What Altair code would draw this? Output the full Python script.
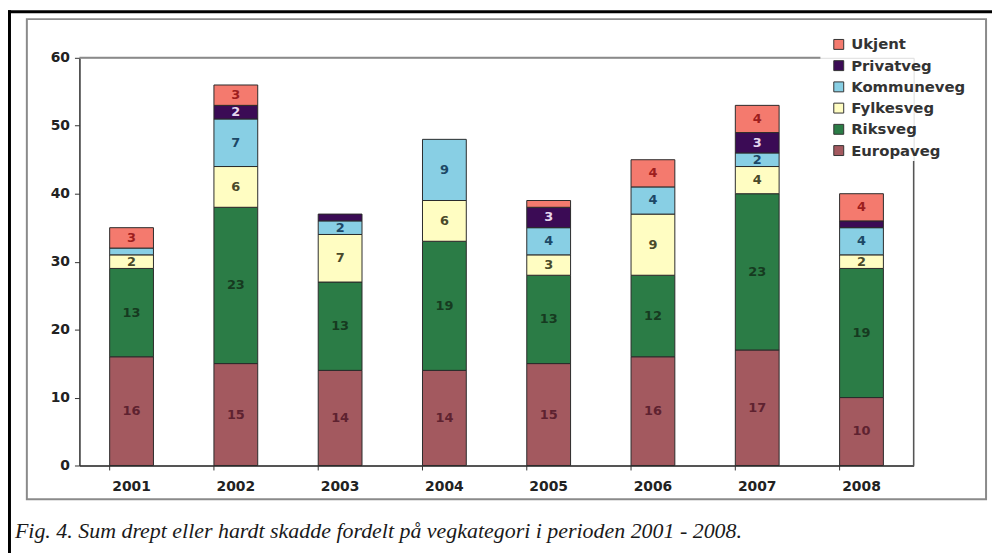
import altair as alt
import pandas as pd

years = ["2001", "2002", "2003", "2004", "2005", "2006", "2007", "2008"]
# bottom -> top stacking order
categories = ["Europaveg", "Riksveg", "Fylkesveg", "Kommuneveg", "Privatveg", "Ukjent"]
europaveg = [16, 15, 14, 14, 15, 16, 17, 10]
riksveg = [13, 23, 13, 19, 13, 12, 23, 19]
fylkesveg = [2, 6, 7, 6, 3, 9, 4, 2]
kommuneveg = [1, 7, 2, 9, 4, 4, 2, 4]
privatveg = [0, 2, 1, 0, 3, 0, 3, 1]
ukjent = [3, 3, 0, 0, 1, 4, 4, 4]
y_ticks = [0, 10, 20, 30, 40, 50, 60]
caption = "Fig. 4. Sum drept eller hardt skadde fordelt på vegkategori i perioden 2001 - 2008."

series = [europaveg, riksveg, fylkesveg, kommuneveg, privatveg, ukjent]
fill_colors = ["#A3595F", "#2B7C46", "#FFFDC2", "#88CFE4", "#3B0B55", "#F47A6E"]
label_colors = ["#5E2230", "#163A20", "#4A4A2A", "#1C4866", "#E6D8EE", "#9E1E1E"]
legend_order = list(reversed(categories))
legend_colors = list(reversed(fill_colors))

rows = []
for ci, (cat, vals) in enumerate(zip(categories, series)):
    for y, v in zip(years, vals):
        rows.append({"year": y, "category": cat, "value": v, "rank": ci})
df = pd.DataFrame(rows)

W, H = 841, 411
FONT = "DejaVu Sans"

xscale = alt.Scale(domain=years, paddingInner=0.58, paddingOuter=0.29)
yscale = alt.Scale(domain=[0, 60], nice=False)

base = (
    alt.Chart(df)
    .transform_filter("datum.value > 0")
    .transform_stack(
        stack="value",
        groupby=["year"],
        as_=["v0", "v1"],
        sort=[alt.SortField("rank", order="ascending")],
    )
    .transform_calculate(mid="(datum.v0 + datum.v1) / 2")
)

bars = base.mark_bar(stroke="#2a2a2a", strokeWidth=1).encode(
    x=alt.X(
        "year:N",
        scale=xscale,
        sort=years,
        title=None,
        axis=alt.Axis(
            labelAngle=0,
            ticks=False,
            domainColor="#555555",
            domainWidth=2,
            labelFont=FONT,
            labelFontWeight="bold",
            labelFontSize=14,
            labelColor="#222222",
            labelPadding=14,
        ),
    ),
    y=alt.Y(
        "v0:Q",
        scale=yscale,
        title=None,
        axis=alt.Axis(
            values=y_ticks,
            grid=False,
            domainColor="#333333",
            domainWidth=1.5,
            tickColor="#333333",
            tickSize=5,
            labelFont=FONT,
            labelFontWeight="bold",
            labelFontSize=14,
            labelColor="#222222",
            labelPadding=5,
        ),
    ),
    y2="v1:Q",
    color=alt.Color(
        "category:N",
        scale=alt.Scale(domain=legend_order, range=legend_colors),
        legend=alt.Legend(
            title=None,
            orient="none",
            legendX=751,
            legendY=-28,
            padding=7,
            symbolType="square",
            symbolSize=100,
            symbolStrokeColor="#333333",
            symbolStrokeWidth=1,
            labelFont=FONT,
            labelFontWeight="bold",
            labelFontSize=15,
            labelColor="#333333",
            labelOffset=5,
            rowPadding=5.4,
        ),
    ),
)

labels = (
    base.transform_filter("datum.value >= 2")
    .mark_text(font=FONT, fontSize=13, fontWeight="bold", baseline="middle")
    .encode(
        x=alt.X("year:N", scale=xscale, sort=years),
        y=alt.Y("mid:Q", scale=yscale),
        text="value:Q",
        fill=alt.Fill(
            "category:N",
            scale=alt.Scale(domain=categories, range=label_colors),
            legend=None,
        ),
    )
)

boundaries = (
    alt.Chart(pd.DataFrame({"year": years}))
    .mark_rule(color="#333333", strokeWidth=1)
    .encode(
        x=alt.X("year:N", scale=xscale, sort=years, bandPosition=0),
        y=alt.value(H),
        y2=alt.value(H + 5),
    )
)

one = pd.DataFrame({"a": [0]})
top_border = alt.Chart(one).mark_rule(color="#8a8a8a", strokeWidth=2).encode(
    x=alt.value(0), x2=alt.value(747), y=alt.value(0)
)
right_border = alt.Chart(one).mark_rule(color="#555555", strokeWidth=1.5).encode(
    x=alt.value(W), y=alt.value(104), y2=alt.value(H)
)
frame = alt.Chart(one).mark_rect(
    fill=None, filled=False, stroke="#8a8a8a", strokeWidth=2
).encode(x=alt.value(-53), x2=alt.value(914), y=alt.value(-39), y2=alt.value(445))
black_top = alt.Chart(one).mark_rule(color="black", strokeWidth=3).encode(
    x=alt.value(-72), x2=alt.value(W + 80), y=alt.value(-46.5)
)
black_left = alt.Chart(one).mark_rule(color="black", strokeWidth=3).encode(
    x=alt.value(-70.5), y=alt.value(-48), y2=alt.value(H + 90)
)
cap = (
    alt.Chart(pd.DataFrame({"t": [caption]}))
    .mark_text(
        font="Liberation Serif",
        fontStyle="italic",
        fontSize=22.1,
        align="left",
        baseline="alphabetic",
        color="#1a1a1a",
    )
    .encode(x=alt.value(-65), y=alt.value(484), text="t:N")
)

chart = (
    alt.layer(frame, black_top, black_left, top_border, right_border, bars, labels, boundaries, cap)
    .properties(
        width=W,
        height=H,
        autosize=alt.AutoSizeParams(type="none"),
        padding={"left": 72, "top": 48, "right": 79, "bottom": 86},
    )
    .configure_view(stroke=None)
    .configure(background="white")
)

chart.save("out.html", embed_options={"renderer": "svg", "actions": False})
